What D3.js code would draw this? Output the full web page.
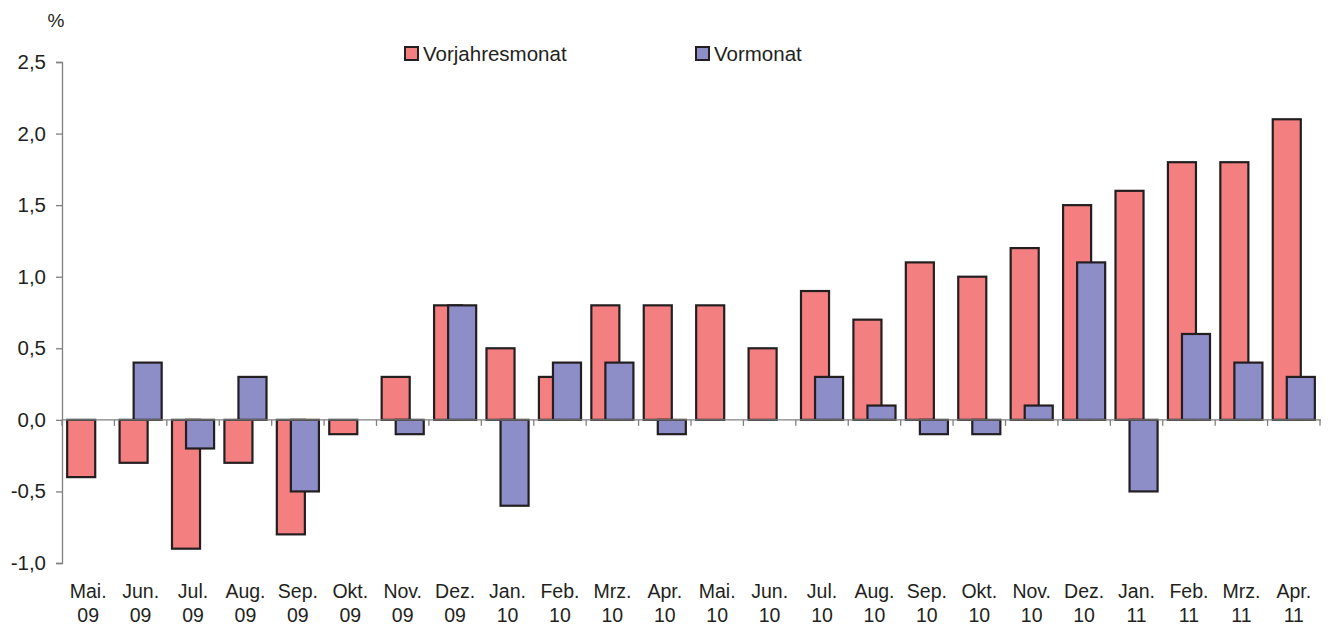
<!DOCTYPE html>
<html>
<head>
<meta charset="utf-8">
<script src="https://cdn.jsdelivr.net/npm/d3@7"></script>
<style>
  body { margin: 0; background: #fff; }
  text { font-family: "Liberation Sans", Arial, sans-serif; fill: #231f20; }
</style>
</head>
<body>
<div class="chart"></div>
<script>
// Monate (zweizeilig beschriftet)
var monate = ["Mai.", "Jun.", "Jul.", "Aug.", "Sep.", "Okt.", "Nov.", "Dez.",
              "Jan.", "Feb.", "Mrz.", "Apr.", "Mai.", "Jun.", "Jul.", "Aug.",
              "Sep.", "Okt.", "Nov.", "Dez.", "Jan.", "Feb.", "Mrz.", "Apr."];
var jahre = ["09", "09", "09", "09", "09", "09", "09", "09",
             "10", "10", "10", "10", "10", "10", "10", "10",
             "10", "10", "10", "10", "11", "11", "11", "11"];
// Veränderung gegenüber Vorjahresmonat
var vorjahresmonat = [-0.4, -0.3, -0.9, -0.3, -0.8, -0.1, 0.3, 0.8,
                      0.5, 0.3, 0.8, 0.8, 0.8, 0.5, 0.9, 0.7,
                      1.1, 1.0, 1.2, 1.5, 1.6, 1.8, 1.8, 2.1];
// Veränderung gegenüber Vormonat
var vormonat = [0.0, 0.4, -0.2, 0.3, -0.5, 0.0, -0.1, 0.8,
                -0.6, 0.4, 0.4, -0.1, 0.0, 0.0, 0.3, 0.1,
                -0.1, -0.1, 0.1, 1.1, -0.5, 0.6, 0.4, 0.3];
var yTicks = [-1.0, -0.5, 0.0, 0.5, 1.0, 1.5, 2.0, 2.5];

drawChart();

function drawChart(){
  var w = 1332, h = 628;
  var mLeft = 62, mRight = 1320, mTop = 62, mBottom = 563;

  var svg = d3.select(".chart").append("svg")
    .attr("width", w).attr("height", h);

  var idx = d3.range(monate.length);
  var x = d3.scaleBand().domain(idx).range([mLeft, mRight]).paddingInner(0).paddingOuter(0);
  var y = d3.scaleLinear().domain([-1.0, 2.5]).range([mBottom, mTop]);

  var bw = x.bandwidth();
  var barW = bw * 0.535;      // Balkenbreite
  var shift = bw * 0.268;     // Versatz des zweiten Balkens
  var pad = (bw - barW - shift) / 2;

  // Vorjahresmonat (rot) zuerst, Vormonat (blau) darüber
  svg.append("g").selectAll("rect")
    .data(idx.filter(function(i) { return vorjahresmonat[i] != 0; }))
    .enter().append("rect")
    .attr("x", function(i) { return x(i) + pad; })
    .attr("width", barW)
    .attr("y", function(i) { return y(Math.max(0, vorjahresmonat[i])); })
    .attr("height", function(i) { return Math.abs(y(vorjahresmonat[i]) - y(0)); })
    .attr("fill", "#f47f81")
    .attr("stroke", "#231f20")
    .attr("stroke-width", 2.2);

  svg.append("g").selectAll("rect")
    .data(idx.filter(function(i) { return vormonat[i] != 0; }))
    .enter().append("rect")
    .attr("x", function(i) { return x(i) + pad + shift; })
    .attr("width", barW)
    .attr("y", function(i) { return y(Math.max(0, vormonat[i])); })
    .attr("height", function(i) { return Math.abs(y(vormonat[i]) - y(0)); })
    .attr("fill", "#8d8dc7")
    .attr("stroke", "#231f20")
    .attr("stroke-width", 2.2);

  // y-Achse
  var yAxis = svg.append("g")
    .attr("transform", "translate(" + mLeft + ",0)")
    .call(d3.axisLeft(y).tickValues(yTicks).tickSize(6).tickPadding(10)
      .tickFormat(function(d) { return d3.format(".1f")(d).replace(".", ",").replace("−", "-"); }));
  yAxis.select(".domain").attr("stroke", "#808080").attr("stroke-width", 1.3);
  yAxis.selectAll(".tick line").attr("stroke", "#808080").attr("stroke-width", 1.3);
  yAxis.selectAll("text").style("font-size", "20.5px").attr("fill", "#231f20")
    .style("font-family", "Liberation Sans, Arial, sans-serif");

  // x-Achse bei Null
  var xAxis = svg.append("g")
    .attr("transform", "translate(0," + y(0) + ")");
  xAxis.append("line")
    .attr("x1", mLeft).attr("x2", mRight + 1)
    .attr("stroke", "#808080").attr("stroke-width", 1.3);
  xAxis.selectAll(".tk")
    .data(d3.range(monate.length + 1))
    .enter().append("line")
    .attr("class", "tk")
    .attr("x1", function(i) { return mLeft + i * bw; })
    .attr("x2", function(i) { return mLeft + i * bw; })
    .attr("y1", 0).attr("y2", 6)
    .attr("stroke", "#808080").attr("stroke-width", 1.3);

  // Kategorie-Beschriftung
  var lab = svg.append("g");
  lab.selectAll(".m").data(idx).enter().append("text")
    .attr("x", function(i) { return x(i) + bw / 2; })
    .attr("y", 598)
    .attr("text-anchor", "middle")
    .style("font-size", "19.5px")
    .text(function(i) { return monate[i]; });
  lab.selectAll(".j").data(idx).enter().append("text")
    .attr("x", function(i) { return x(i) + bw / 2; })
    .attr("y", 622)
    .attr("text-anchor", "middle")
    .style("font-size", "19.5px")
    .text(function(i) { return jahre[i]; });

  // Einheit
  svg.append("text").attr("x", 56).attr("y", 27)
    .attr("text-anchor", "middle").style("font-size", "19px").text("%");

  // Legende
  var legend = [
    { name: "Vorjahresmonat", color: "#f47f81", x: 405 },
    { name: "Vormonat", color: "#8d8dc7", x: 696 }
  ];
  var lg = svg.append("g").selectAll("g").data(legend).enter().append("g")
    .attr("transform", function(d) { return "translate(" + d.x + ",47)"; });
  lg.append("rect").attr("width", 13).attr("height", 13)
    .attr("fill", function(d) { return d.color; })
    .attr("stroke", "#231f20").attr("stroke-width", 2);
  lg.append("text").attr("x", 18).attr("y", 14)
    .style("font-size", "20.5px").text(function(d) { return d.name; });
}
</script>
</body>
</html>
